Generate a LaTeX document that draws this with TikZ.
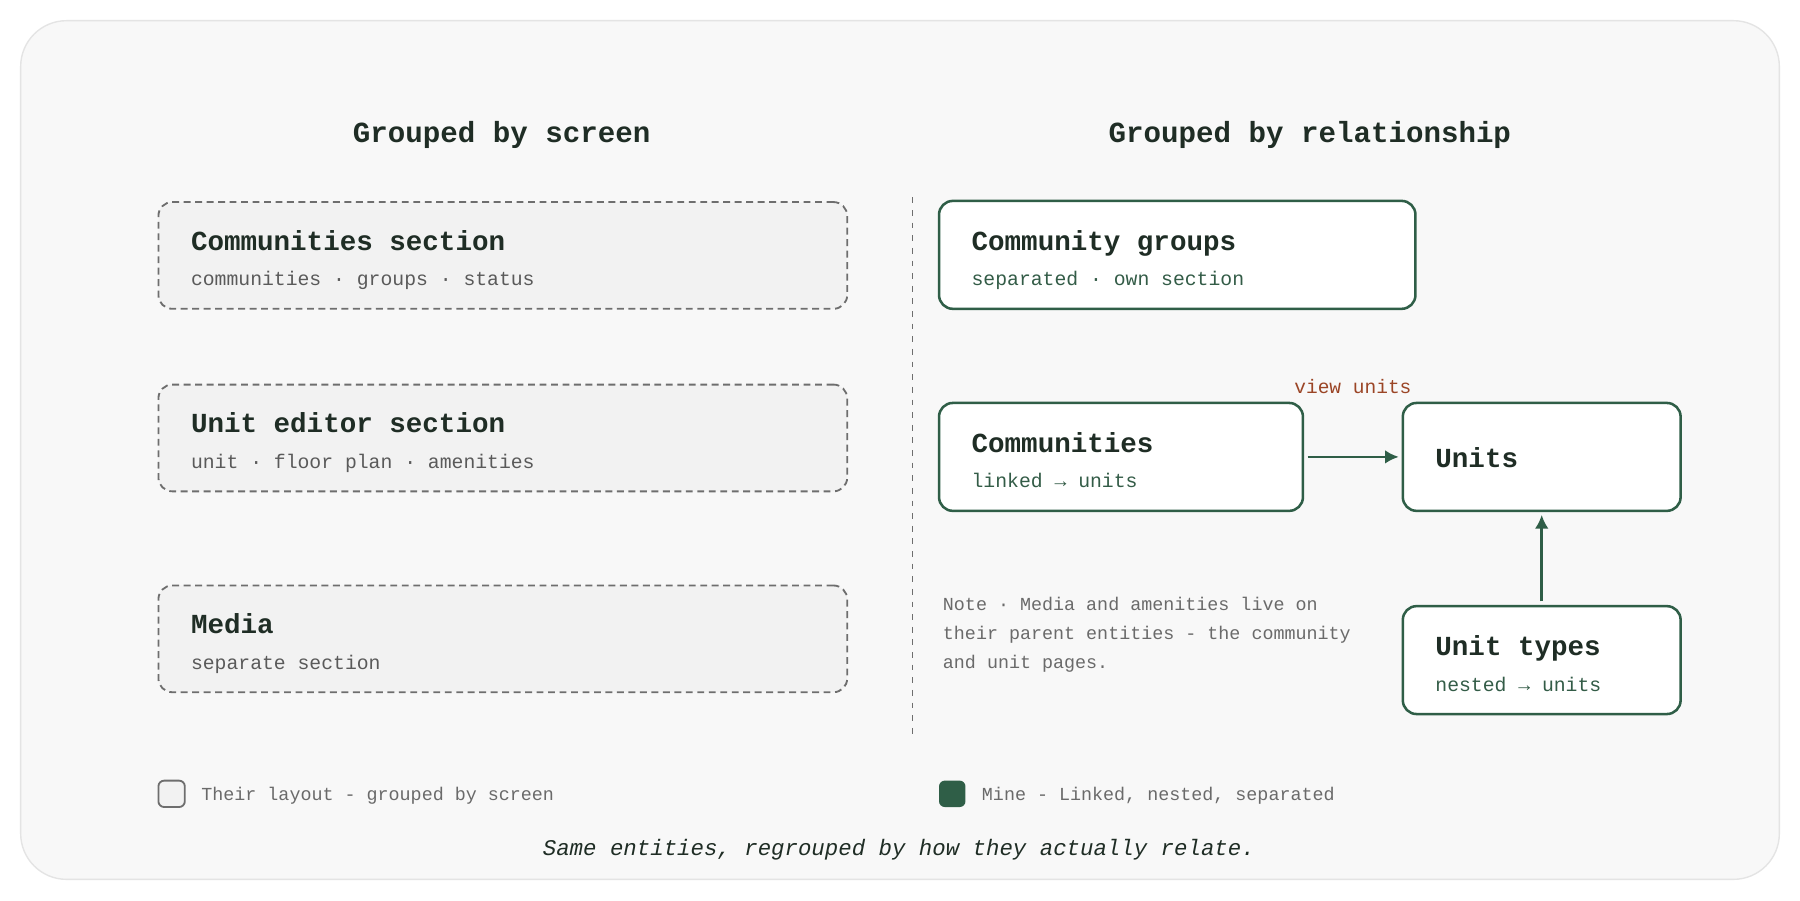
\documentclass[tikz,border=0pt]{standalone}
\usepackage{fontspec}
\setmainfont{Liberation Mono}
\usetikzlibrary{arrows.meta}

\definecolor{ink}{HTML}{1F2D25}
\definecolor{relgreen}{HTML}{2F5E47}
\definecolor{subgreen}{HTML}{335C47}
\definecolor{subgray}{HTML}{5A5A5A}
\definecolor{notegray}{HTML}{6A6A6A}
\definecolor{dashgray}{HTML}{6E6E6E}
\definecolor{boxgray}{HTML}{F2F2F2}
\definecolor{panel}{HTML}{F8F8F8}
\definecolor{panelline}{HTML}{E4E4E4}
\definecolor{rust}{HTML}{9B4526}

\begin{document}
\begin{tikzpicture}[x=0.5pt,y=-0.5pt,
    screenbox/.style={draw=dashgray, dash pattern=on 3pt off 2pt, line width=0.8pt,
        fill=boxgray, rounded corners=6pt, minimum width=300pt, minimum height=46.5pt, inner sep=0pt},
    relbox/.style={draw=relgreen, line width=1.1pt, fill=white, rounded corners=6pt,
        minimum height=47pt, inner sep=0pt},
    heading/.style={anchor=base, inner sep=0pt, text=ink, font=\fontsize{12.7}{15}\selectfont\bfseries},
    boxtitle/.style={anchor=base west, inner sep=0pt, text=ink, font=\fontsize{12}{14}\selectfont\bfseries},
    boxsub/.style={anchor=base west, inner sep=0pt, font=\fontsize{8.6}{10}\selectfont},
    small/.style={anchor=base west, inner sep=0pt, text=notegray, font=\fontsize{8}{12.5}\selectfont},
    link/.style={draw=relgreen, line width=1.2pt, -{Latex[length=6pt,width=6pt]},
        shorten <=1.5pt, shorten >=1.2pt},
    legendkey/.style={rounded corners=2.5pt, minimum size=11.5pt, inner sep=0pt}]

    % canvas and panel
    \useasboundingbox (0,0) rectangle (1568,784);
    \fill[white] (0,0) rectangle (1568,784);
    \draw[panelline, fill=panel, line width=0.6pt, rounded corners=20pt] (18,18) rectangle (1550,766);

    % headings
    \node[heading] (hscreen) at (437,124) {Grouped by screen};
    \node[heading] (hrel) at (1141,124) {Grouped by relationship};

    % their layout: one box per screen
    \foreach \i/\y/\t/\s in {1/222.5/Communities section/communities · groups · status,
                             2/381.5/Unit editor section/unit · floor plan · amenities,
                             3/556.5/Media/separate section} {
        \node[screenbox] (scr\i) at (438,\y) {};
        \node[boxtitle] (scr\i-t) at (166,\y-4.5) {\t};
        \node[boxsub, text=subgray] (scr\i-s) at (166,\y+26.5) {\s};
    }

    % divider
    \draw[dashgray, line width=0.6pt, dash pattern=on 2.5pt off 3pt] (795,172) -- (795,642);

    % my layout
    \node[relbox, minimum width=207.5pt] (cg) at (1025.5,222) {};
    \node[boxtitle] (cg-t) at (846,218) {Community groups};
    \node[boxsub, text=subgreen] (cg-s) at (846,249) {separated · own section};

    \node[relbox, minimum width=158.5pt] (comm) at (976.5,398) {};
    \node[boxtitle] (comm-t) at (846,394) {Communities};
    \node[boxsub, text=subgreen] (comm-s) at (846,425) {linked → units};

    \node[relbox, minimum width=121pt] (units) at (1343,398) {};
    \node[boxtitle] (units-t) at (1250,407) {Units};

    \node[relbox, minimum width=121pt] (ut) at (1343,575) {};
    \node[boxtitle] (ut-t) at (1250,571) {Unit types};
    \node[boxsub, text=subgreen] (ut-s) at (1250,602) {nested → units};

    % links
    \draw[link] (comm) -- (units)
        node[midway, anchor=base, yshift=27.5pt, inner sep=0pt, text=rust,
             font=\fontsize{8.5}{10}\selectfont] (vu) {view units};
    \draw[link] (ut) -- (units);

    % note
    \node[small] (note1) at (821,532) {Note · Media and amenities live on};
    \node[small] (note2) at (821,557) {their parent entities - the community};
    \node[small] (note3) at (821,582) {and unit pages.};

    % legend
    \node[legendkey, draw=dashgray, line width=0.8pt, fill=boxgray] (k1) at (149.5,691.5) {};
    \node[small] (k1-t) at (175,697) {Their layout - grouped by screen};
    \node[legendkey, fill=relgreen] (k2) at (829.5,691.5) {};
    \node[small] (k2-t) at (855,697) {Mine - Linked, nested, separated};

    % caption
    \node[anchor=base, inner sep=0pt, text=ink, font=\fontsize{9.75}{12}\selectfont\itshape] (cap)
        at (783,745) {Same entities, regrouped by how they actually relate.};
\end{tikzpicture}
\end{document}
